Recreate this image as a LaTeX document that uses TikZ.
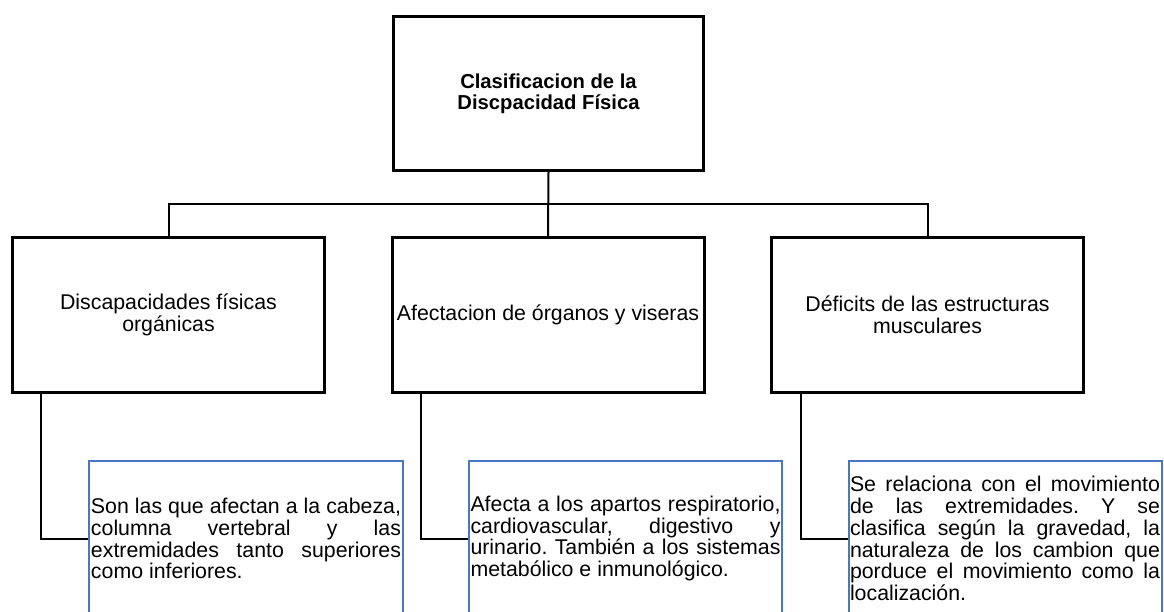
\documentclass[tikz,border=0pt]{standalone}
\usepackage{fontspec}
\setmainfont{Liberation Sans}
\usepackage{tikz}
\usetikzlibrary{calc,positioning}
\definecolor{descblue}{RGB}{72,118,200}
\hyphenpenalty=10000
\tolerance=10000
\frenchspacing
\tikzstyle{chart}=[
  x=1bp,y=1bp,font=\fontsize{21.4}{22}\selectfont
]
\tikzstyle{rootbox}=[
  draw,line width=3bp,minimum width=310bp,minimum height=154bp,align=center,
  font=\fontsize{20.3}{21.5}\selectfont\bfseries
]
\tikzstyle{catbox}=[
  draw,line width=3bp,minimum width=312bp,minimum height=154bp,align=center
]
\tikzstyle{descbox}=[
  draw=descblue,line width=2bp,minimum width=313bp,minimum height=155bp,
  text width=310bp,inner sep=1.5bp,align=justify
]
\tikzstyle{link}=[
  line width=2bp
]

\begin{document}
\begin{tikzpicture}[chart]
  \useasboundingbox (0,0) rectangle (1164,-612);
  \node (root) at (548.5,-93.5) [rootbox] {Clasificacion de la\\Discpacidad Física};
  \node (organic) at (168.5,-315) [catbox] {Discapacidades físicas\\orgánicas};
  \node (organs) at ($(organic)+(379.5,0)$) [catbox] {Afectacion de órganos y viseras};
  \node (muscle) at ($(organs)+(379.5,0)$) [catbox] {Déficits de las estructuras\\musculares};
  \node (organicd) at ($(organic)+(77.5,-223.5)$) [descbox] {Son las que afectan a la cabeza,\linebreak
    columna vertebral y las\linebreak extremidades tanto superiores\linebreak como inferiores.};
  \node (organsd) at ($(organs)+(77.5,-223.5)$) [descbox] {Afecta a los apartos respiratorio,\linebreak
    cardiovascular, digestivo y\linebreak urinario. También a los sistemas\linebreak metabólico e inmunológico.};
  \node (muscled) at ($(muscle)+(77.5,-223.5)$) [descbox] {Se relaciona con el movimiento\linebreak
    de las extremidades. Y se\linebreak clasifica según la gravedad, la\linebreak
    naturaleza de los cambion que\linebreak porduce el movimiento como la\linebreak localización.};
  \coordinate (fork) at ($(root.south)!0.5!(organs.north)$);
  \draw [link] (root.south) -- (organs.north);
  \draw [link] (organic.north) |- (fork) -| (muscle.north);
  \foreach \c/\d in {organic/organicd,organs/organsd,muscle/muscled} {
    \draw [link] ($(\c.south west)+(30.5,0)$) |- (\d.west);
  }
\end{tikzpicture}
\end{document}
